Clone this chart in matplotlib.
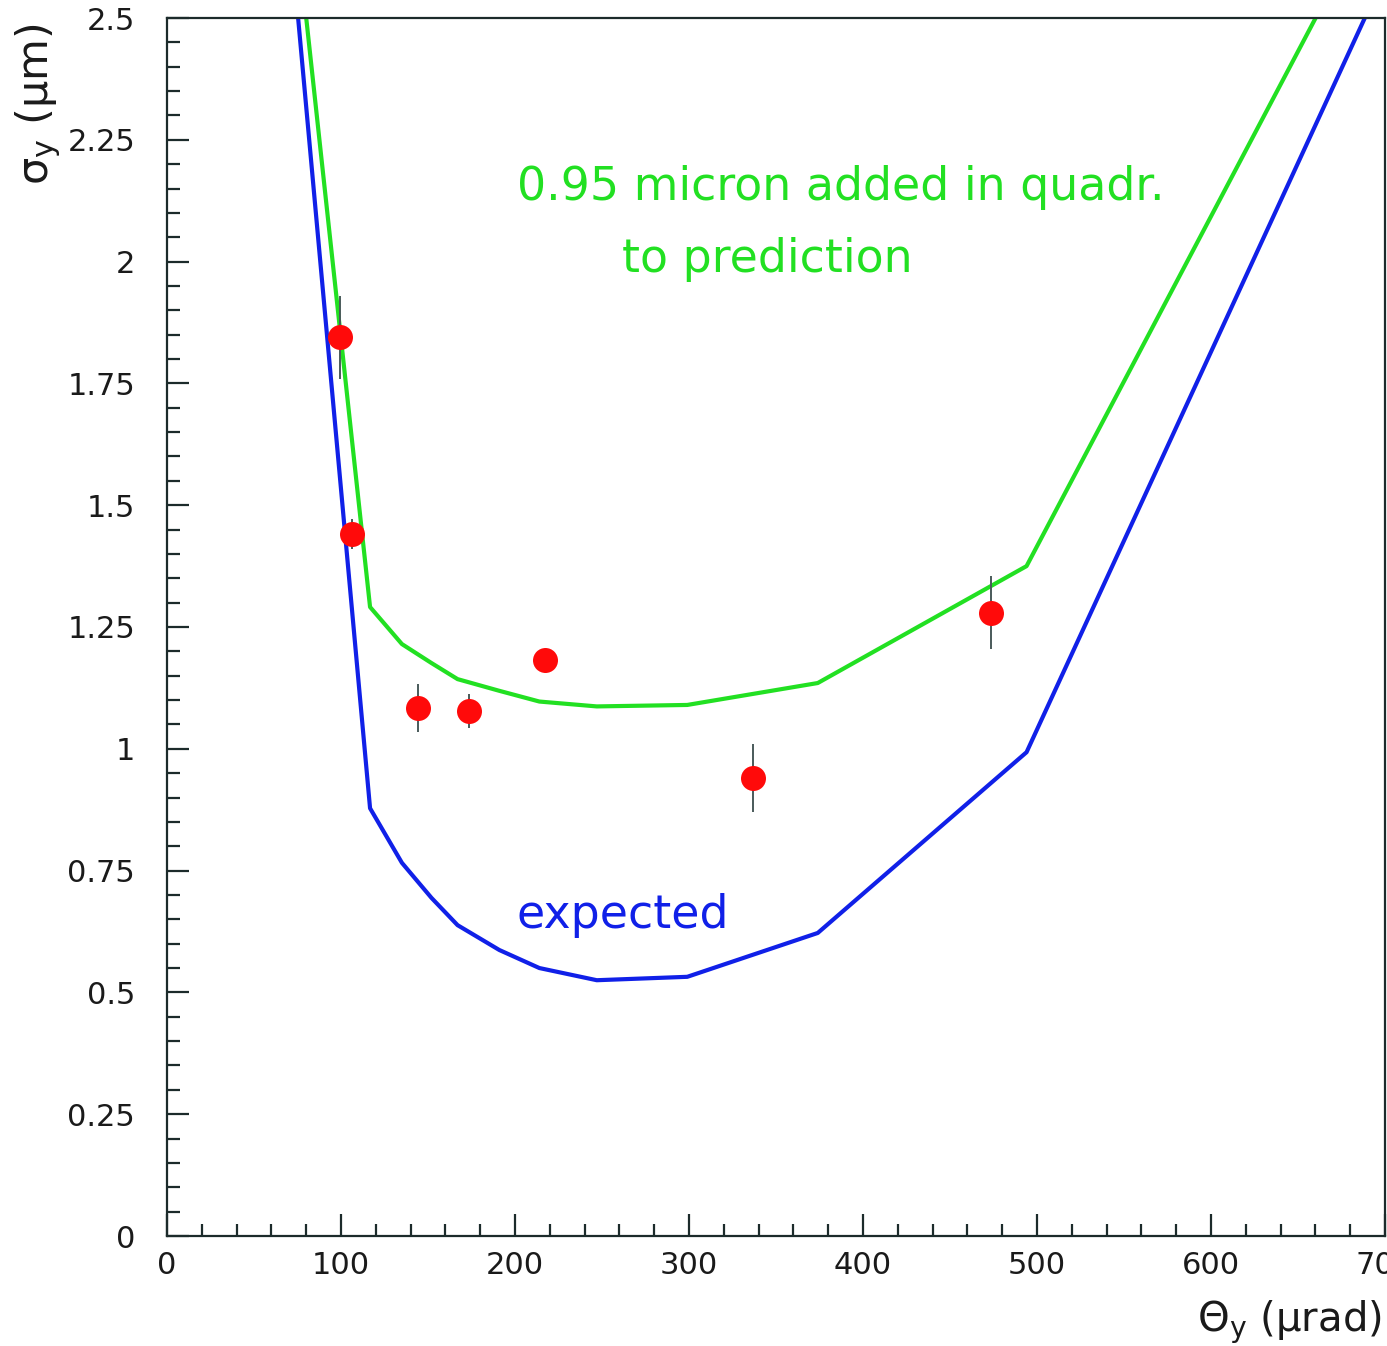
import matplotlib
matplotlib.use("Agg")
import matplotlib.pyplot as plt
from matplotlib.ticker import MultipleLocator, FuncFormatter

plt.rcParams["mathtext.default"] = "regular"

# ---- data ----
theta_curve = [70, 116.7, 135, 152, 167, 191, 214, 247, 299, 374, 494, 700]
expected = [2.71, 0.878, 0.766, 0.694, 0.638, 0.587, 0.550, 0.525, 0.532, 0.622, 0.993, 2.59]
with_quadr = [2.83, 1.291, 1.215, 1.176, 1.143, 1.119, 1.097, 1.087, 1.090, 1.135, 1.375, 2.77]

theta_data = [99.4, 106.3, 144.3, 173.6, 217.2, 336.8, 473.6]
sigma_data = [1.845, 1.441, 1.084, 1.078, 1.182, 0.940, 1.279]
sigma_err = [0.085, 0.03, 0.05, 0.035, 0.02, 0.07, 0.075]

y_ticks = [0, 0.25, 0.5, 0.75, 1, 1.25, 1.5, 1.75, 2, 2.25, 2.5]
x_ticks = [0, 100, 200, 300, 400, 500, 600, 700]

W, H = 1387, 1346
fig = plt.figure(figsize=(W / 100, H / 100), dpi=100)
ax = fig.add_axes([167 / W, 1 - 1236 / H, (1385 - 167) / W, (1236 - 18) / H])

spine_c = "#1c2b2b"
ax.plot(theta_curve, expected, color="#1020e8", lw=3.0, zorder=2)
ax.plot(theta_curve, with_quadr, color="#22e022", lw=3.0, zorder=2)
ax.errorbar(theta_data, sigma_data, yerr=sigma_err, fmt="none",
            ecolor="#4a5a5a", elinewidth=1.4, capsize=0, zorder=3)
ax.plot(theta_data, sigma_data, "o", color="#ff0a0a", markersize=18,
        markeredgewidth=0, zorder=4)

ax.set_xlim(0, 700)
ax.set_ylim(0, 2.5)
ax.set_xticks(x_ticks)
ax.set_yticks(y_ticks)
ax.xaxis.set_minor_locator(MultipleLocator(20))
ax.yaxis.set_minor_locator(MultipleLocator(0.05))
ax.yaxis.set_major_formatter(FuncFormatter(lambda v, p: "%g" % v))
ax.xaxis.set_major_formatter(FuncFormatter(lambda v, p: "%g" % v))

for s in ax.spines.values():
    s.set_color(spine_c)
    s.set_linewidth(1.6)

ax.tick_params(which="both", direction="in", top=False, right=False,
               color=spine_c, width=1.6, labelcolor="#1a1a1a")
ax.tick_params(which="major", length=16, labelsize=22)
ax.tick_params(which="minor", length=9)
ax.tick_params(axis="y", which="major", pad=23)
ax.tick_params(axis="x", which="major", pad=11)
for lab in ax.get_xticklabels() + ax.get_yticklabels():
    lab.set_fontfamily("DejaVu Sans")

ax.text(201, 2.126, "0.95 micron added in quadr.", color="#22e022",
        fontsize=33, ha="left", va="baseline")
ax.text(261.5, 1.979, "to prediction", color="#22e022",
        fontsize=33, ha="left", va="baseline")
ax.text(201, 0.632, "expected", color="#1020e8",
        fontsize=33, ha="left", va="baseline")

fig.text(38 / W, 1 - 104 / H, r"$\sigma_y$ ($\mu$m)", rotation=90,
         ha="center", va="center", fontsize=31, color="#1a1a1a")
fig.text(1382 / W, 1 - 1322 / H, r"$\Theta_y$ ($\mu$rad)",
         ha="right", va="center", fontsize=29, color="#1a1a1a")

fig.savefig("out.png", dpi=100, facecolor="white")
